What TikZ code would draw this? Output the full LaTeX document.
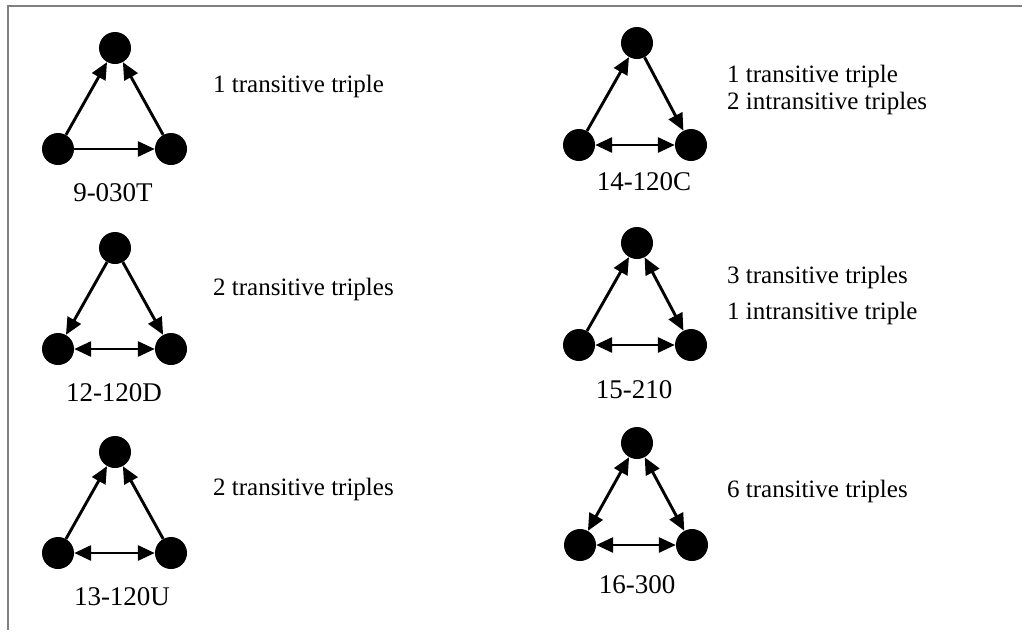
\documentclass[tikz,border=0pt]{standalone}
\usepackage{fontspec}
\setmainfont{Liberation Serif}
\usetikzlibrary{arrows.meta, positioning}
\definecolor{FrameGray}{RGB}{128, 128, 128}

\begin{document}
\begin{tikzpicture}[x=1pt, y=-1pt,
        vertex/.style={circle, fill=black, inner sep=0pt, minimum size=32pt},
        arc/.style={-{Triangle[length=17pt, width=15pt]}, line width=2.9pt},
        biarc/.style={{Triangle[length=17pt, width=15pt]}-{Triangle[length=17pt, width=15pt]}, line width=2.9pt},
        triadname/.style={inner sep=0pt, font=\fontsize{27}{30}\selectfont},
        count/.style={anchor=base west, inner sep=0pt, font=\fontsize{25}{28}\selectfont}]

        \useasboundingbox (0,0) rectangle (1022,630);

        % Frame (top and left only)
        \draw[FrameGray, line width=2pt] (8,630) -- (8,6) -- (1022,6);

        % --- LEFT COLUMN ---
        \begin{scope}[shift={(58,149)}]
            \node[vertex] (l9) at (0,0) {};
            \node[vertex] (r9) at (113,0) {};
            \node[vertex] (t9) at (57,-101) {};
            \draw[arc] (l9) -- (t9);
            \draw[arc] (r9) -- (t9);
            \draw[arc] (l9) -- (r9);
            \node[triadname] (n9) at (55,44) {9-030T};
        \end{scope}
        \node[count] (c9) at (213,92) {1 transitive triple};

        \begin{scope}[shift={(58,349)}]
            \node[vertex] (l12) at (0,0) {};
            \node[vertex] (r12) at (113,0) {};
            \node[vertex] (t12) at (57,-101) {};
            \draw[arc] (t12) -- (l12);
            \draw[arc] (t12) -- (r12);
            \draw[biarc] (l12) -- (r12);
            \node[triadname] (n12) at (56,44) {12-120D};
        \end{scope}
        \node[count] (c12) at (213,295) {2 transitive triples};

        \begin{scope}[shift={(58,553)}]
            \node[vertex] (l13) at (0,0) {};
            \node[vertex] (r13) at (113,0) {};
            \node[vertex] (t13) at (57,-101) {};
            \draw[arc] (l13) -- (t13);
            \draw[arc] (r13) -- (t13);
            \draw[biarc] (l13) -- (r13);
            \node[triadname] (n13) at (64,44) {13-120U};
        \end{scope}
        \node[count] (c13) at (213,495) {2 transitive triples};

        % --- RIGHT COLUMN ---
        \begin{scope}[shift={(579,145)}]
            \node[vertex] (l14) at (0,0) {};
            \node[vertex] (r14) at (112,0) {};
            \node[vertex] (t14) at (58,-102) {};
            \draw[arc] (l14) -- (t14);
            \draw[arc] (t14) -- (r14);
            \draw[biarc] (l14) -- (r14);
            \node[triadname] (n14) at (65,37) {14-120C};
        \end{scope}
        \node[count] (c14a) at (727,82) {1 transitive triple};
        \node[count] (c14b) at (727,109) {2 intransitive triples};

        \begin{scope}[shift={(579,345)}]
            \node[vertex] (l15) at (0,0) {};
            \node[vertex] (r15) at (112,0) {};
            \node[vertex] (t15) at (58,-102) {};
            \draw[arc] (l15) -- (t15);
            \draw[biarc] (t15) -- (r15);
            \draw[biarc] (l15) -- (r15);
            \node[triadname] (n15) at (55,45) {15-210};
        \end{scope}
        \node[count] (c15a) at (727,283) {3 transitive triples};
        \node[count] (c15b) at (727,319) {1 intransitive triple};

        \begin{scope}[shift={(580,545)}]
            \node[vertex] (l16) at (0,0) {};
            \node[vertex] (r16) at (112,0) {};
            \node[vertex] (t16) at (57,-102) {};
            \draw[biarc] (l16) -- (t16);
            \draw[biarc] (t16) -- (r16);
            \draw[biarc] (l16) -- (r16);
            \node[triadname] (n16) at (57,40) {16-300};
        \end{scope}
        \node[count] (c16) at (727,497) {6 transitive triples};

    \end{tikzpicture}
\end{document}
